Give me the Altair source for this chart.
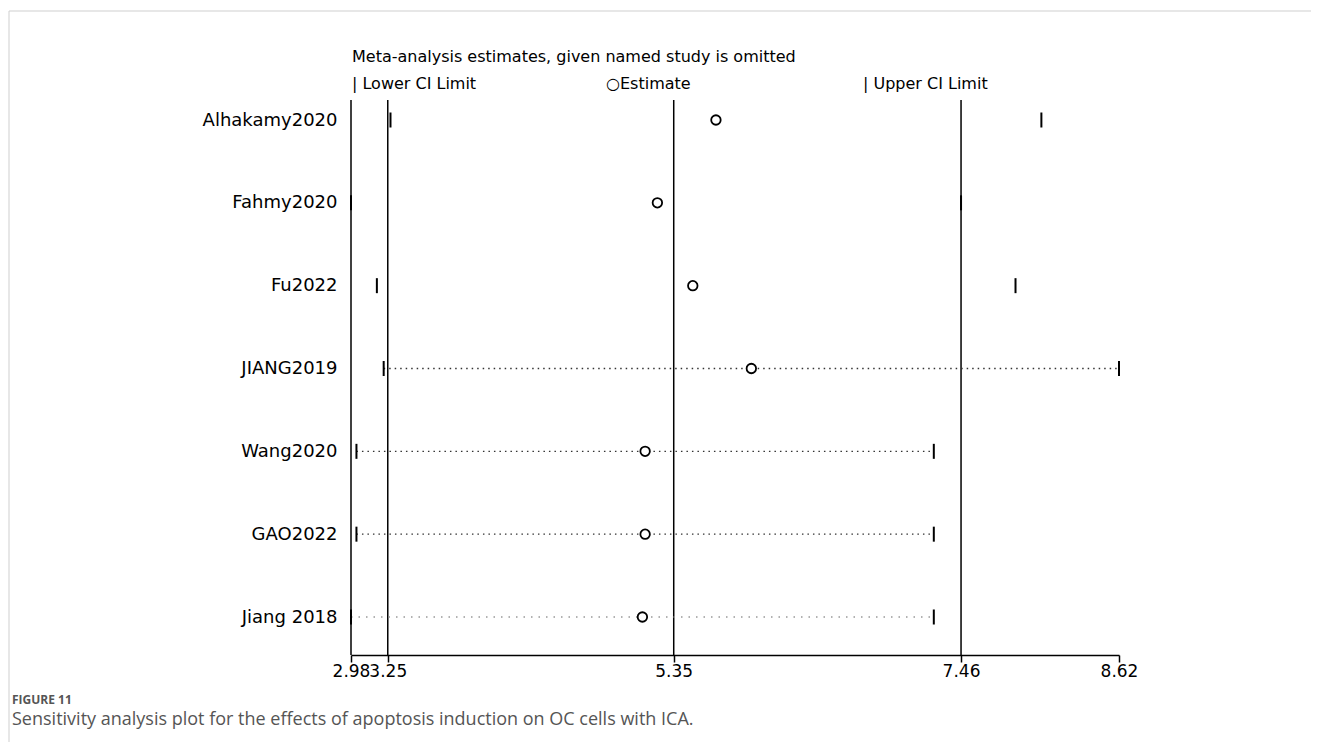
import altair as alt
import pandas as pd

studies = ["Alhakamy2020", "Fahmy2020", "Fu2022", "JIANG2019", "Wang2020", "GAO2022", "Jiang 2018"]
lower = [3.27, 2.98, 3.17, 3.22, 3.02, 3.02, 2.98]
estimate = [5.66, 5.23, 5.49, 5.92, 5.14, 5.14, 5.12]
upper = [8.05, 7.46, 7.86, 8.62, 7.26, 7.26, 7.26]

ref_values = [2.98, 3.25, 5.35, 7.46]
tick_values = [2.98, 3.25, 5.35, 7.46, 8.62]

dotted_dark = ["JIANG2019", "Wang2020", "GAO2022"]
dotted_light = ["Jiang 2018"]

title_text = "Meta-analysis estimates, given named study is omitted"
legend_texts = ["| Lower CI Limit", "\u25cbEstimate", "| Upper CI Limit"]
fig_label = "FIGURE 11"
caption = "Sensitivity analysis plot for the effects of apoptosis induction on OC cells with ICA."

df = pd.DataFrame({"study": studies, "lower": lower, "est": estimate, "upper": upper})
ref_df = pd.DataFrame({"v": ref_values})

W, H = 768, 555
FONT = "DejaVu Sans"

xscale = alt.Scale(domain=[min(lower), max(upper)], nice=False, zero=False)
yscale = alt.Scale(domain=studies, type="point", range=[20, 517], padding=0)

xaxis = alt.Axis(values=tick_values, format=".2f", title=None, grid=False,
                 domainColor="black", domainWidth=1.5, tickColor="black", tickWidth=1.5,
                 tickSize=7, labelFont=FONT, labelFontSize=17, labelColor="black",
                 labelOverlap=False, labelFlush=False, labelPadding=1)
yaxis = alt.Axis(title=None, domain=False, ticks=False, grid=False, labelFont=FONT,
                 labelFontSize=18, labelColor="black", labelPadding=14)

base = alt.Chart(df)

refs = alt.Chart(ref_df).mark_rule(color="black", strokeWidth=1.5).encode(
    x=alt.X("v:Q", scale=xscale, axis=xaxis)
)

dots_dark = base.transform_filter(
    alt.FieldOneOfPredicate(field="study", oneOf=dotted_dark)
).mark_rule(color="#333", strokeWidth=1.4, strokeDash=[1.5, 4]).encode(
    x=alt.X("lower:Q", scale=xscale, axis=xaxis),
    x2="upper:Q",
    y=alt.Y("study:N", scale=yscale, axis=yaxis),
)
dots_light = base.transform_filter(
    alt.FieldOneOfPredicate(field="study", oneOf=dotted_light)
).mark_rule(color="#999", strokeWidth=1.4, strokeDash=[1.5, 6]).encode(
    x=alt.X("lower:Q", scale=xscale, axis=xaxis),
    x2="upper:Q",
    y=alt.Y("study:N", scale=yscale, axis=yaxis),
)

lo_ticks = base.mark_tick(color="black", size=15, thickness=2, opacity=1).encode(
    x=alt.X("lower:Q", scale=xscale, axis=xaxis),
    y=alt.Y("study:N", scale=yscale, axis=yaxis),
)
up_ticks = base.mark_tick(color="black", size=15, thickness=2, opacity=1).encode(
    x=alt.X("upper:Q", scale=xscale, axis=xaxis),
    y=alt.Y("study:N", scale=yscale, axis=yaxis),
)
points = base.mark_point(shape="circle", size=90, filled=False, fill="white",
                         fillOpacity=1, stroke="black", strokeWidth=1.8, opacity=1).encode(
    x=alt.X("est:Q", scale=xscale, axis=xaxis),
    y=alt.Y("study:N", scale=yscale, axis=yaxis),
)

def label(text, x, y, size=16, font=FONT, color="black", weight="normal"):
    return alt.Chart(pd.DataFrame({"t": [text]})).mark_text(
        align="left", baseline="middle", font=font, fontSize=size, color=color,
        fontWeight=weight
    ).encode(text="t:N", x=alt.value(x), y=alt.value(y))

header = label(title_text, 1, -43)
leg1 = label(legend_texts[0], 1, -16)
leg2 = label(legend_texts[1], 255, -16)
leg3 = label(legend_texts[2], 512, -16)
figlab = label(fig_label, -339, 600, size=12, font="Open Sans", color="#555", weight="bold")
cap = label(caption, -339, 620, size=18, font="Open Sans", color="#555")

border_top = alt.Chart(pd.DataFrame({"a": [0]})).mark_rule(color="#cfcfcf", strokeWidth=1).encode(
    x=alt.value(-342), x2=alt.value(980), y=alt.value(-89))
border_left = alt.Chart(pd.DataFrame({"a": [0]})).mark_rule(color="#cfcfcf", strokeWidth=1).encode(
    x=alt.value(-342), y=alt.value(-89), y2=alt.value(660))

chart = alt.layer(
    border_top, border_left, refs, dots_dark, dots_light, lo_ticks, up_ticks, points,
    header, leg1, leg2, leg3, figlab, cap
).properties(
    width=W, height=H,
    autosize=alt.AutoSizeParams(type="none"),
    padding={"left": 343, "top": 92, "right": 192, "bottom": 87},
    background="white",
).configure_view(stroke=None)

chart.save("out.html", embed_options={"renderer": "svg", "actions": False})
